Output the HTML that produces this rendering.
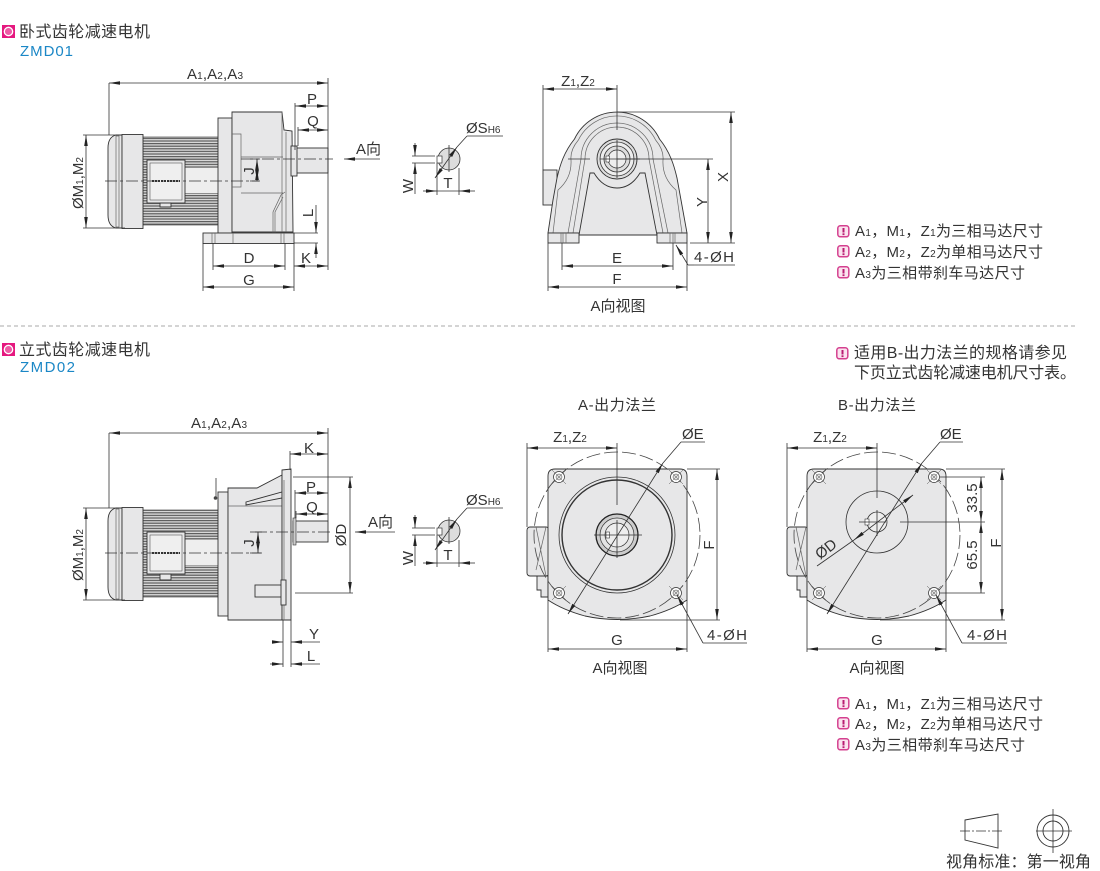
<!DOCTYPE html>
<html><head><meta charset="utf-8"><style>
html,body{margin:0;padding:0;background:#fff}
svg{display:block}
text{font-family:"Liberation Sans","Noto Sans CJK SC",sans-serif;fill:#333;font-size:15px}
.m{text-anchor:middle}
.b{font-size:16px}
tspan.s{font-size:10px}
.l{stroke:#333;stroke-width:.8;fill:none}
.o{stroke:#333;stroke-width:.9;fill:#e7e7e8}
.n{stroke:#666;stroke-width:.7;fill:none}
.c{stroke:#333;stroke-width:.8;fill:none;stroke-dasharray:12 3 3 3}
.d{marker-start:url(#a);marker-end:url(#a)}
.e{marker-end:url(#a)}
</style></head><body>
<svg width="1100" height="871" viewBox="0 0 1100 871" xmlns="http://www.w3.org/2000/svg">
<defs>
<marker id="a" markerUnits="userSpaceOnUse" markerWidth="12" markerHeight="6" refX="11" refY="3" orient="auto-start-reverse"><path d="M0 1.200L11 3L0 4.800Z" fill="#222"/></marker>
<pattern id="f" width="4" height="2.600" patternUnits="userSpaceOnUse"><rect width="4" height="2.600" fill="#d8d8d8"/><rect width="4" height="1.200" fill="#5c5c5c"/></pattern>
<g id="ni"><rect x=".8" y=".8" width="11" height="11" rx="2.500" fill="#fbe3ef" stroke="#d4408f" stroke-width="1.500"/><rect x="5.500" y="3" width="2" height="4.500" fill="#b81c72"/><rect x="5.500" y="8.300" width="2" height="1.800" fill="#b81c72"/></g>
<g id="hi"><rect width="13" height="13" fill="#e5187f"/><circle cx="6.500" cy="6.500" r="4.200" fill="#ee5aa5" stroke="#fff" stroke-width="1.300"/></g>
<g id="hole"><circle r="5.500" fill="#fff" stroke="#333" stroke-width=".7"/><circle r="3" fill="#e0e0e0" stroke="#444" stroke-width=".5"/><path d="M-7 -7L7 7M-7 7L7 -7" stroke="#555" stroke-width=".5"/></g>
</defs>

<!-- headers -->
<use href="#hi" x="2" y="25"/>
<text class="b" x="19" y="37" textLength="131">卧式齿轮减速电机</text>
<text x="20" y="56" textLength="53" style="fill:#1b87c6;font-size:15px">ZMD01</text>
<line x1="0" y1="326" x2="1076" y2="326" stroke="#aaa" stroke-width="1" stroke-dasharray="4 3"/>
<use href="#hi" x="2" y="343"/>
<text class="b" x="19" y="355" textLength="131">立式齿轮减速电机</text>
<text x="20" y="372" textLength="55" style="fill:#1b87c6;font-size:15px">ZMD02</text>

<!-- notes 1 -->
<use href="#ni" x="837" y="225"/><text x="855" y="236" textLength="188">A<tspan class="s">1</tspan>，M<tspan class="s">1</tspan>，Z<tspan class="s">1</tspan>为三相马达尺寸</text>
<use href="#ni" x="837" y="245"/><text x="855" y="257" textLength="188">A<tspan class="s">2</tspan>，M<tspan class="s">2</tspan>，Z<tspan class="s">2</tspan>为单相马达尺寸</text>
<use href="#ni" x="837" y="266"/><text x="855" y="278" textLength="170">A<tspan class="s">3</tspan>为三相带刹车马达尺寸</text>
<!-- notes 2 -->
<use href="#ni" x="836" y="347"/><text class="b" x="854" y="358" textLength="213">适用B-出力法兰的规格请参见</text>
<text class="b" x="854" y="378" textLength="222">下页立式齿轮减速电机尺寸表。</text>
<!-- notes 3 -->
<use href="#ni" x="837" y="697"/><text x="855" y="709" textLength="188">A<tspan class="s">1</tspan>，M<tspan class="s">1</tspan>，Z<tspan class="s">1</tspan>为三相马达尺寸</text>
<use href="#ni" x="837" y="717"/><text x="855" y="729" textLength="188">A<tspan class="s">2</tspan>，M<tspan class="s">2</tspan>，Z<tspan class="s">2</tspan>为单相马达尺寸</text>
<use href="#ni" x="837" y="738"/><text x="855" y="750" textLength="170">A<tspan class="s">3</tspan>为三相带刹车马达尺寸</text>

<!-- ===== side view 1 ===== -->
<rect x="143" y="137" width="75" height="88" fill="url(#f)" stroke="#333" stroke-width=".6"/>
<rect x="185" y="168" width="33" height="25" fill="#eee"/>
<path class="o" d="M122 135H116Q108 137 108 148V215Q108 226 116 228H122Z"/>
<rect class="n" x="116" y="136" width="3" height="91"/>
<rect class="o" x="122" y="134.500" width="21" height="94"/>
<rect class="o" x="147" y="160" width="38" height="43"/>
<rect x="150" y="163" width="32" height="37" fill="#efefef" stroke="#555" stroke-width=".6"/>
<line x1="152" y1="181" x2="180" y2="181" stroke="#333" stroke-width="2" stroke-dasharray="2 1"/>
<path class="o" d="M160 203H171V207H160Z"/>
<rect class="o" x="218" y="118" width="14" height="115"/>
<path class="o" d="M232 112H282L284 130L292 131L293 232H232Z"/>
<path class="n" d="M232 134H241V187H232M241 157H283M241 193H283M282 112V232M286 132V232M273 233V212L281 195L285 192"/>
<path class="n" d="M275 233V212L283 197"/>
<rect class="o" x="293" y="148" width="35" height="25"/>
<rect class="o" x="291" y="146" width="6" height="30"/>
<rect class="o" x="203" y="233" width="91" height="10.500"/>
<path class="n" d="M212 233V243M215 233V243M233 233V243M281 233V243M284 233V243"/>
<line class="c" x1="105" y1="181" x2="259" y2="181"/>
<line class="c" x1="241" y1="159" x2="333" y2="159"/>
<!-- dims -->
<path class="l" d="M109 83V135M328 78V270M83 135H122M83 228H125M295 103V150M298 127V146M203 243V291M294 243V291M213 243V270M285 243V270M294 233H318M294 243H318M250 159H260M250 181H260"/>
<line class="l d" x1="109" y1="83" x2="328" y2="83"/>
<line class="l d" x1="295" y1="106" x2="328" y2="106"/>
<line class="l d" x1="298" y1="130" x2="328" y2="130"/>
<line class="l d" x1="86" y1="135" x2="86" y2="228"/>
<line class="l d" x1="257" y1="169" x2="257" y2="181"/><line class="l e" x1="257" y1="170" x2="257" y2="159"/>
<line class="l e" x1="316" y1="205" x2="316" y2="233"/>
<line class="l e" x1="316" y1="258" x2="316" y2="243"/>
<line class="l d" x1="213" y1="266" x2="285" y2="266"/>
<line class="l d" x1="203" y1="287" x2="294" y2="287"/>
<line class="l d" x1="294" y1="266" x2="328" y2="266"/>
<line class="l e" x1="380" y1="159" x2="344" y2="159"/>
<text x="187" y="79" textLength="56">A<tspan class="s">1</tspan>,A<tspan class="s">2</tspan>,A<tspan class="s">3</tspan></text>
<text class="m" x="312" y="104">P</text><text class="m" x="313" y="126">Q</text>
<text x="356" y="154">A向</text>
<text class="m" transform="translate(83 183) rotate(-90)">ØM<tspan class="s">1</tspan>,M<tspan class="s">2</tspan></text>
<text class="m" transform="translate(254 171) rotate(-90)">J</text>
<text class="m" transform="translate(313 213) rotate(-90)">L</text>
<text class="m" x="249" y="263">D</text><text class="m" x="249" y="285">G</text><text class="m" x="306" y="263">K</text>

<!-- shaft detail 1 -->
<circle cx="449" cy="159" r="11" fill="#ddd" stroke="#333" stroke-width=".8"/>
<rect x="437" y="156" width="5" height="7" fill="#fff" stroke="#333" stroke-width=".7"/>
<path class="l" d="M412 156H435M412 163H435M437 163V195M459 168V195M449 145V172M467 136H503"/>
<line class="l e" x1="415" y1="143" x2="415" y2="156"/>
<line class="l e" x1="415" y1="176" x2="415" y2="163"/><line class="l" x1="415" y1="176" x2="415" y2="194"/>
<line class="l e" x1="423" y1="191" x2="437" y2="191"/>
<line class="l e" x1="475" y1="191" x2="459" y2="191"/>
<line class="l" x1="437" y1="191" x2="459" y2="191"/>
<path class="l d" d="M457 147L435 178"/><path class="l" d="M467 136L457 147"/>
<text x="466" y="133">ØS<tspan class="s">H6</tspan></text>
<text class="m" x="448" y="188">T</text>
<text class="m" transform="translate(413 186) rotate(-90)">W</text>

<!-- front view 1 -->
<rect class="o" x="543" y="170" width="14" height="35"/>
<path class="o" d="M548 233L553 200L557 178C560 165 564 152 574.500 139A47 47 0 0 1 659.500 139C670 152 674 165 677 178L681 200L687 233Z"/>
<path class="n" d="M553 233L558 190Q572 178 571 160Q570 150 578.400 140A43 43 0 0 1 655.600 140Q664 150 663 160Q662 178 676 190L682 233"/>
<path class="n" d="M573 233L585 159A32 32 0 0 1 649 159L663 233"/>
<path class="n" d="M568 233L581 159A36 36 0 0 1 653 159L668 233"/>
<path class="o" d="M579 235L590 173L594 173C600 183 608 188 617 188C626 188 634 183 640 173L645 173L657 235Z"/>
<circle cx="617" cy="159" r="20" fill="#ddd" stroke="#333" stroke-width=".9"/>
<circle cx="617" cy="159" r="17" fill="#eee" stroke="#333" stroke-width=".8"/>
<circle cx="617" cy="159" r="13" fill="#ddd" stroke="#333" stroke-width=".8"/>
<circle cx="617" cy="159" r="9" fill="#eee" stroke="#333" stroke-width=".7"/>
<rect x="606" y="156" width="3.500" height="6" fill="#fff" stroke="#333" stroke-width=".6"/>
<rect class="o" x="548" y="233" width="31" height="10"/><rect class="o" x="657" y="233" width="30" height="10"/>
<path class="n" d="M561 233V243M563 233V243M566 233V243M670 233V243M673 233V243M675 233V243"/>
<path class="l" d="M543 85V170M617 85V130M617 112H735M617 159H713M568 159H590M690 243H735M548 243V291M687 243V291M562 243V270M673 243V270M694 265H735"/>
<path class="l" d="M617 140V178M600 159H640"/>
<line class="l d" x1="543" y1="89" x2="617" y2="89"/>
<line class="l d" x1="731" y1="112" x2="731" y2="243"/>
<line class="l d" x1="708" y1="159" x2="708" y2="243"/>
<line class="l d" x1="562" y1="266" x2="673" y2="266"/>
<line class="l d" x1="548" y1="287" x2="687" y2="287"/>
<path class="l" d="M694 265H688"/><line class="l e" x1="688" y1="265" x2="676" y2="245"/>
<text class="m" x="578" y="86">Z<tspan class="s">1</tspan>,Z<tspan class="s">2</tspan></text>
<text class="m" transform="translate(728 177) rotate(-90)">X</text>
<text class="m" transform="translate(707 202) rotate(-90)">Y</text>
<text class="m" x="617" y="263">E</text><text class="m" x="617" y="284">F</text>
<text x="694" y="262" textLength="40">4-ØH</text>
<text class="m" x="618" y="311">A向视图</text>

<!-- ===== side view 2 ===== -->
<rect x="143" y="510" width="75" height="87" fill="url(#f)" stroke="#333" stroke-width=".6"/>
<rect x="185" y="540" width="33" height="25" fill="#eee"/>
<path class="o" d="M122 508H116Q108 510 108 521V587Q108 598 116 600H122Z"/>
<rect class="n" x="116" y="509" width="3" height="90"/>
<rect class="o" x="122" y="507.500" width="21" height="93"/>
<rect class="o" x="147" y="532" width="38" height="42"/>
<rect x="150" y="535" width="32" height="36" fill="#efefef" stroke="#555" stroke-width=".6"/>
<line x1="152" y1="553" x2="180" y2="553" stroke="#333" stroke-width="2" stroke-dasharray="2 1"/>
<path class="o" d="M160 574H171V580H160Z"/>
<path class="l" d="M216 478V499" stroke-width="1.500"/><circle cx="215.500" cy="498" r="1.800" fill="#444"/>
<rect class="o" x="218" y="492" width="10" height="124"/>
<path class="o" d="M228 488H257L282 475V620H228Z"/>
<path class="n" d="M228 506H282"/>
<path class="o" d="M246 502L282 492V498L246 505Z"/>
<path class="o" d="M282 470L291 469V620H282Z"/>
<path class="n" d="M284 480V620"/>
<rect class="o" x="255" y="585" width="28" height="12"/>
<rect class="o" x="281" y="580" width="5" height="25"/>
<rect class="o" x="293" y="521" width="35" height="21"/>
<rect x="293" y="518" width="3" height="27" fill="#ccc" stroke="#333" stroke-width=".6"/>
<line class="c" x1="105" y1="553" x2="261" y2="553"/>
<line class="c" x1="255" y1="532" x2="330" y2="532"/>
<path class="l" d="M109 433V508M328 428V521M290 451V470M83 508H122M83 600H125M295 490V518M293 477H353M295 593H353M283 620V667M291 620V667M296 511V518M250 532H262M250 553H262"/>
<line class="l d" x1="109" y1="433" x2="328" y2="433"/>
<line class="l d" x1="290" y1="454" x2="328" y2="454"/>
<line class="l d" x1="295" y1="493" x2="328" y2="493"/>
<line class="l d" x1="296" y1="514" x2="328" y2="514"/>
<line class="l d" x1="350" y1="477" x2="350" y2="593"/>
<line class="l d" x1="86" y1="508" x2="86" y2="600"/>
<line class="l e" x1="258" y1="544" x2="258" y2="553"/><line class="l e" x1="258" y1="545" x2="258" y2="532"/>
<line class="l e" x1="395" y1="532" x2="355" y2="532"/>
<line class="l e" x1="275" y1="642" x2="283" y2="642"/><line class="l e" x1="320" y1="642" x2="291" y2="642"/>
<line class="l e" x1="270" y1="664" x2="283" y2="664"/><line class="l e" x1="320" y1="664" x2="291" y2="664"/>
<text x="191" y="428" textLength="56">A<tspan class="s">1</tspan>,A<tspan class="s">2</tspan>,A<tspan class="s">3</tspan></text>
<text class="m" x="309" y="453">K</text><text class="m" x="311" y="492">P</text><text class="m" x="312" y="512">Q</text>
<text x="368" y="527">A向</text>
<text class="m" transform="translate(346 535) rotate(-90)">ØD</text>
<text class="m" transform="translate(83 555) rotate(-90)">ØM<tspan class="s">1</tspan>,M<tspan class="s">2</tspan></text>
<text class="m" transform="translate(254 543) rotate(-90)">J</text>
<text class="m" x="314" y="639">Y</text><text class="m" x="311" y="661">L</text>

<!-- shaft detail 2 -->
<circle cx="449" cy="531" r="11" fill="#ddd" stroke="#333" stroke-width=".8"/>
<rect x="437" y="528" width="5" height="7" fill="#fff" stroke="#333" stroke-width=".7"/>
<path class="l" d="M412 528H435M412 535H435M437 535V567M459 540V567M449 517V544M467 508H503"/>
<line class="l e" x1="415" y1="515" x2="415" y2="528"/>
<line class="l e" x1="415" y1="548" x2="415" y2="535"/><line class="l" x1="415" y1="548" x2="415" y2="566"/>
<line class="l e" x1="423" y1="563" x2="437" y2="563"/>
<line class="l e" x1="475" y1="563" x2="459" y2="563"/>
<line class="l" x1="437" y1="563" x2="459" y2="563"/>
<path class="l d" d="M457 519L435 550"/><path class="l" d="M467 508L457 519"/>
<text x="466" y="505">ØS<tspan class="s">H6</tspan></text>
<text class="m" x="448" y="560">T</text>
<text class="m" transform="translate(413 558) rotate(-90)">W</text>

<!-- A flange -->
<rect class="o" x="527" y="527" width="22" height="49" rx="3"/>
<path class="n" d="M536 527L546 576M546 527L536 570"/>
<path class="o" d="M537 576H548V597H541V590H537Z"/>
<path class="o" d="M555 469H680Q687 469 687 476V600Q672 610 650 616Q617 623 585 616Q563 610 548 600V476Q548 469 555 469Z"/>
<circle cx="617" cy="535" r="83" fill="none" stroke="#444" stroke-width=".8" stroke-dasharray="14 4"/>
<circle cx="617" cy="535" r="58" fill="#e7e7e8" stroke="#333" stroke-width=".8"/>
<circle cx="617" cy="535" r="55" fill="#e7e7e8" stroke="#333" stroke-width="1.400"/>
<circle cx="617" cy="535" r="21" fill="#ccc" stroke="#222" stroke-width="1.300"/>
<circle cx="617" cy="535" r="17" fill="#e4e4e4" stroke="#333" stroke-width=".7"/>
<circle cx="617" cy="535" r="12" fill="#eee" stroke="#333" stroke-width=".7"/>
<rect x="606" y="532" width="3.500" height="6" fill="#fff" stroke="#333" stroke-width=".6"/>
<use href="#hole" x="559" y="477"/><use href="#hole" x="676" y="477"/><use href="#hole" x="559" y="593"/><use href="#hole" x="676" y="593"/>
<path class="l" d="M527 443V527M617 443V505M617 520V558M594 535H642M687 469H720M620 620H720M548 600V652M687 600V652M681 442H705M703 643H747"/>
<line class="l d" x1="527" y1="448" x2="617" y2="448"/>
<line class="l d" x1="717" y1="469" x2="717" y2="620"/>
<line class="l d" x1="548" y1="649" x2="687" y2="649"/>
<line class="l d" x1="663" y1="463" x2="568" y2="614"/><path class="l" d="M681 442L663 463"/>
<line class="l e" x1="703" y1="643" x2="677" y2="595"/>
<text x="578" y="410" textLength="78">A-出力法兰</text>
<text class="m" x="570" y="442">Z<tspan class="s">1</tspan>,Z<tspan class="s">2</tspan></text>
<text x="682" y="439">ØE</text>
<text class="m" transform="translate(714 545) rotate(-90)">F</text>
<text class="m" x="617" y="645">G</text>
<text x="707" y="640" textLength="40">4-ØH</text>
<text class="m" x="620" y="673">A向视图</text>

<!-- B flange -->
<rect class="o" x="787" y="527" width="21" height="49" rx="3"/>
<path class="n" d="M796 527L806 576M806 527L796 570"/>
<path class="o" d="M797 576H807V597H800V590H797Z"/>
<path class="o" d="M814 469H939Q946 469 946 476V600Q931 610 909 616Q877 623 845 616Q822 610 807 600V476Q807 469 814 469Z"/>
<circle cx="877" cy="535" r="83" fill="none" stroke="#444" stroke-width=".8" stroke-dasharray="14 4"/>
<circle cx="877" cy="522" r="31" fill="none" stroke="#333" stroke-width=".8"/>
<circle cx="877" cy="522" r="10" fill="#eee" stroke="#333" stroke-width=".8"/>
<rect x="865" y="519" width="4" height="6" fill="#fff" stroke="#333" stroke-width=".6"/>
<use href="#hole" x="819" y="477"/><use href="#hole" x="934" y="477"/><use href="#hole" x="819" y="593"/><use href="#hole" x="934" y="593"/>
<path class="l" d="M787 443V527M877 443V498M877 510V536M859 522H886M900 522H985M940 477H985M940 593H985M946 469H1005M880 620H1005M807 600V652M946 600V652M940 442H963M962 643H1007"/>
<line class="l d" x1="787" y1="448" x2="877" y2="448"/>
<line class="l d" x1="1002" y1="469" x2="1002" y2="620"/>
<line class="l d" x1="981" y1="477" x2="981" y2="522"/>
<line class="l d" x1="981" y1="522" x2="981" y2="593"/>
<line class="l d" x1="807" y1="649" x2="946" y2="649"/>
<line class="l d" x1="922" y1="463" x2="827" y2="614"/><path class="l" d="M940 442L922 463"/>
<line class="l d" x1="854" y1="540" x2="913" y2="495"/><path class="l" d="M854 540L817 566"/>
<line class="l e" x1="962" y1="643" x2="936" y2="595"/>
<text x="838" y="410" textLength="78">B-出力法兰</text>
<text class="m" x="830" y="442">Z<tspan class="s">1</tspan>,Z<tspan class="s">2</tspan></text>
<text x="940" y="439">ØE</text>
<text class="m" transform="translate(829 553) rotate(-38)">ØD</text>
<text class="m" transform="translate(977 498) rotate(-90)">33.5</text>
<text class="m" transform="translate(977 555) rotate(-90)">65.5</text>
<text class="m" transform="translate(1001 543) rotate(-90)">F</text>
<text class="m" x="877" y="645">G</text>
<text x="967" y="640" textLength="40">4-ØH</text>
<text class="m" x="877" y="673">A向视图</text>

<!-- view symbol -->
<path d="M965 820L998 814V848L965 840Z" fill="none" stroke="#333" stroke-width=".9"/>
<line x1="960" y1="831" x2="1003" y2="831" stroke="#333" stroke-width=".8" stroke-dasharray="10 2 2 2"/>
<circle cx="1053" cy="831" r="16" fill="none" stroke="#333" stroke-width=".9"/>
<circle cx="1053" cy="831" r="10" fill="none" stroke="#333" stroke-width=".9"/>
<path class="l" d="M1053 809V853M1036 831H1072"/>
<text class="b" x="946" y="867" textLength="145">视角标准：第一视角</text>
</svg>
</body></html>
